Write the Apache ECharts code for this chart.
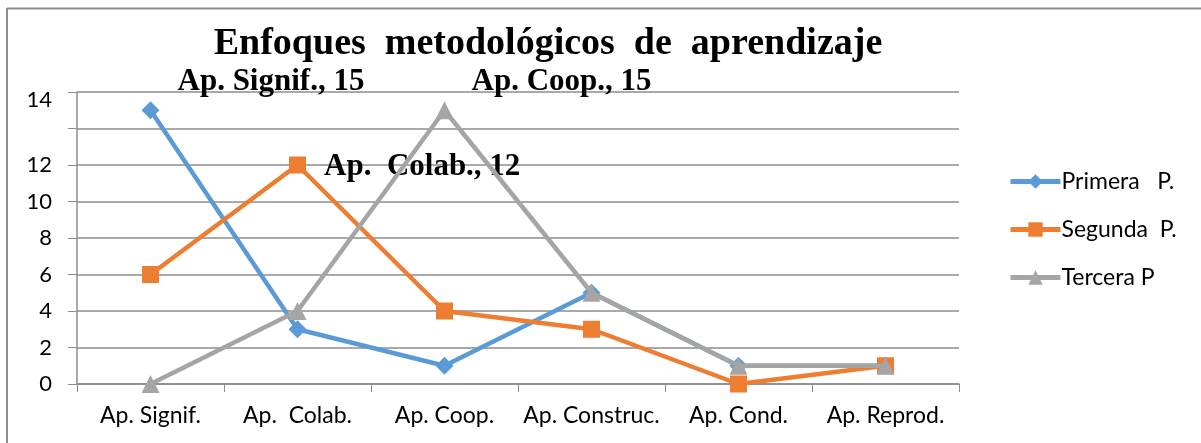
<!DOCTYPE html>
<html>
<head>
<meta charset="utf-8">
<script src="https://cdn.jsdelivr.net/npm/echarts@6/dist/echarts.min.js"></script>
<style>
  html, body { margin: 0; padding: 0; background: #fff; }
  #chart { width: 1201px; height: 443px; }
</style>
</head>
<body>
<div id="chart"></div>
<script>
// categorias y valores
var categorias = ['Ap. Signif.', 'Ap.  Colab.', 'Ap. Coop.', 'Ap. Construc.', 'Ap. Cond.', 'Ap. Reprod.'];
var primera = [15, 3, 1, 5, 1, 1];
var segunda = [6, 12, 4, 3, 0, 1];
var tercera = [0, 4, 15, 5, 1, 1];
var nombres = ['Primera   P.', 'Segunda  P.', 'Tercera P'];

var sans = 'Lato, "Open Sans", sans-serif';
var serifBold = {
  fontFamily: '"Liberation Serif", "DejaVu Serif", serif',
  fontWeight: 'bold',
  fontSize: 31,
  color: '#000'
};

// etiqueta de dato solo en un punto
function conEtiqueta(valores, idx, texto, offset) {
  return valores.map(function (v, i) {
    if (i !== idx) return v;
    return {
      value: v,
      label: Object.assign({
        show: true,
        position: 'right',
        distance: 18,
        offset: offset,
        formatter: texto
      }, serifBold)
    };
  });
}

var chart = echarts.init(document.getElementById('chart'));
chart.setOption({
  animation: false,
  title: {
    text: 'Enfoques  metodológicos  de  aprendizaje',
    left: 543,
    textAlign: 'center',
    top: 20,
    textStyle: {
      fontFamily: '"Liberation Serif", "DejaVu Serif", serif',
      fontWeight: 'bold',
      fontSize: 38,
      color: '#000'
    }
  },
  graphic: [
    { type: 'line', shape: { x1: 7, y1: 8.5, x2: 1201, y2: 8.5 }, style: { stroke: '#8c8c8c', lineWidth: 2 } },
    { type: 'line', shape: { x1: 7, y1: 8, x2: 7, y2: 443 }, style: { stroke: '#8c8c8c', lineWidth: 2 } }
  ],
  legend: {
    orient: 'vertical',
    left: 1003,
    top: 165,
    itemWidth: 50,
    itemHeight: 18,
    itemGap: 25,
    lineStyle: { width: 5 },
    textStyle: { fontFamily: sans, fontSize: 23, color: '#000', padding: [0, 0, 0, -4] },
    data: nombres
  },
  grid: { left: 77, right: 242, top: 92, bottom: 59 },
  xAxis: {
    type: 'category',
    data: categorias,
    boundaryGap: true,
    axisLine: { lineStyle: { color: '#8c8c8c', width: 1.5 } },
    axisTick: { show: true, length: 8, lineStyle: { color: '#8c8c8c' } },
    axisLabel: { color: '#000', fontSize: 23, fontFamily: sans, margin: 20, interval: 0 }
  },
  yAxis: {
    type: 'value',
    min: 0,
    max: 16,
    interval: 2,
    axisLine: { show: true, lineStyle: { color: '#8c8c8c', width: 1.5 } },
    axisTick: { show: true, length: 9, lineStyle: { color: '#8c8c8c' } },
    splitLine: { lineStyle: { color: '#8c8c8c', width: 1.5 } },
    axisLabel: {
      color: '#000',
      fontSize: 22,
      fontFamily: sans,
      margin: 25,
      formatter: function (v) {
        if (v === 16) return '{top|14}';
        if (v === 14) return '';
        return v;
      },
      rich: {
        top: { fontSize: 22, color: '#000', fontFamily: sans, padding: [16, 0, 0, 0] }
      }
    }
  },
  series: [
    {
      name: nombres[0],
      type: 'line',
      data: conEtiqueta(primera, 0, 'Ap. Signif., 15', [0, -28]),
      symbol: 'diamond',
      symbolSize: 18,
      z: 3,
      lineStyle: { color: '#5B9BD5', width: 4.5 },
      itemStyle: { color: '#5B9BD5' }
    },
    {
      name: nombres[1],
      type: 'line',
      data: conEtiqueta(segunda, 1, 'Ap.  Colab., 12', [0, 2]),
      symbol: 'rect',
      symbolSize: 17,
      z: 4,
      lineStyle: { color: '#ED7D31', width: 4.5 },
      itemStyle: { color: '#ED7D31' }
    },
    {
      name: nombres[2],
      type: 'line',
      data: conEtiqueta(tercera, 2, 'Ap. Coop., 15', [0, -28]),
      symbol: 'triangle',
      symbolSize: 18,
      z: 5,
      lineStyle: { color: '#A5A5A5', width: 4.5 },
      itemStyle: { color: '#A5A5A5' }
    }
  ]
});
</script>
</body>
</html>
